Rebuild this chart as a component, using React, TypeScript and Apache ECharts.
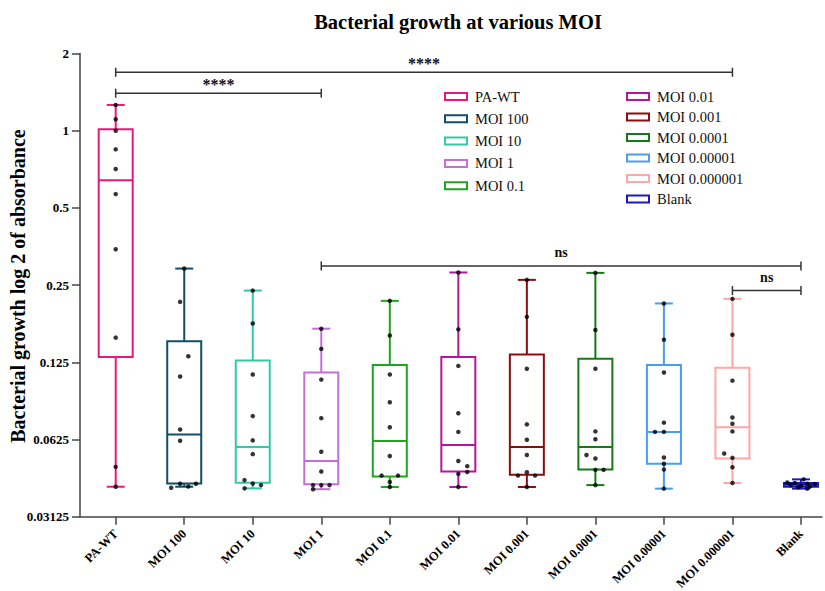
import React, { useEffect, useRef } from "react";
import * as echarts from "echarts";

// ---------------- data ----------------
const categories = [
  "PA-WT", "MOI 100", "MOI 10", "MOI 1", "MOI 0.1", "MOI 0.01",
  "MOI 0.001", "MOI 0.0001", "MOI 0.00001", "MOI 0.000001", "Blank",
];

const colors = [
  "#e8197c", "#124e66", "#33c9a4", "#c46fd6", "#1fa51f", "#b3169f",
  "#8c0d0d", "#157a15", "#4a9ded", "#ffa6a6", "#1a1ac4",
];

// box statistics: [min, Q1, median, Q3, max]
const boxPAWT = [0.0409, 0.131, 0.641, 1.013, 1.26];
const boxMOI100 = [0.0409, 0.0421, 0.0654, 0.151, 0.29];
const boxMOI10 = [0.0403, 0.0424, 0.0584, 0.127, 0.238];
const boxMOI1 = [0.04, 0.0418, 0.0515, 0.114, 0.169];
const boxMOI01 = [0.0408, 0.0448, 0.0617, 0.122, 0.217];
const boxMOI001 = [0.0408, 0.0469, 0.0595, 0.131, 0.28];
const boxMOI0001 = [0.0408, 0.0455, 0.0584, 0.134, 0.262];
const boxMOI00001 = [0.0415, 0.0477, 0.0584, 0.129, 0.279];
const boxMOI000001 = [0.0402, 0.0503, 0.0669, 0.122, 0.212];
const boxMOI0000001 = [0.0423, 0.0527, 0.0697, 0.119, 0.221];
const boxBlank = [0.0402, 0.0409, 0.0416, 0.0423, 0.0437];

// individual replicate values
const ptsPAWT = [1.26, 1.108, 1.0, 0.846, 0.709, 0.566, 0.345, 0.156, 0.0489, 0.0409];
const ptsMOI100 = [0.29, 0.215, 0.132, 0.11, 0.0684, 0.0618, 0.042, 0.0405, 0.041, 0.042];
const ptsMOI10 = [0.238, 0.177, 0.112, 0.0771, 0.062, 0.0548, 0.0434, 0.0421, 0.0415, 0.0403];
const ptsMOI1 = [0.169, 0.141, 0.107, 0.0757, 0.056, 0.0469, 0.0415, 0.0415, 0.0415, 0.04];
const ptsMOI01 = [0.217, 0.159, 0.112, 0.0873, 0.0698, 0.0539, 0.0452, 0.0452, 0.0427, 0.0408];
const ptsMOI001 = [0.28, 0.168, 0.121, 0.0791, 0.0669, 0.0515, 0.0492, 0.0467, 0.0459, 0.0408];
const ptsMOI0001 = [0.262, 0.188, 0.118, 0.0716, 0.0624, 0.0544, 0.0466, 0.0452, 0.0452, 0.0408];
const ptsMOI00001 = [0.279, 0.167, 0.118, 0.0672, 0.0626, 0.0544, 0.0527, 0.0476, 0.0476, 0.0415];
const ptsMOI000001 = [0.212, 0.153, 0.114, 0.0727, 0.0669, 0.0669, 0.0532, 0.0503, 0.0477, 0.0402];
const ptsMOI0000001 = [0.221, 0.16, 0.106, 0.0761, 0.072, 0.0672, 0.0551, 0.053, 0.0487, 0.0423];
const ptsBlank = [0.0437, 0.0425, 0.0423, 0.042, 0.0418, 0.0415, 0.0413, 0.041, 0.0407, 0.0402];

// horizontal jitter of each replicate (fraction of a category step)
const jitPAWT = [0, 0, 0, 0, 0, 0, 0, 0, 0, 0];
const jitMOI100 = [0, -0.06, 0.06, -0.06, -0.06, -0.06, -0.06, -0.19, 0.06, 0.17];
const jitMOI10 = [0, 0, 0, 0, 0, 0, -0.12, 0, 0.12, -0.12];
const jitMOI1 = [0, 0, 0, 0, 0, 0, -0.12, 0, 0.12, -0.12];
const jitMOI01 = [0, 0, 0, 0, 0, 0, -0.12, 0.12, 0, 0];
const jitMOI001 = [0, 0, 0, 0, 0, 0, 0.13, 0.13, 0, 0];
const jitMOI0001 = [0, 0, 0, 0, 0, 0, 0, -0.13, 0.12, 0];
const jitMOI00001 = [0, 0, 0, 0, 0, -0.13, 0, 0, 0.12, 0];
const jitMOI000001 = [0, 0, 0, 0, -0.13, 0, 0, 0, 0, 0];
const jitMOI0000001 = [0, 0, 0, 0, 0, 0, -0.12, 0, 0, 0];
const jitBlank = [0.04, -0.2, -0.09, 0.09, 0.2, -0.15, 0, 0.13, -0.04, 0.09];

// y-axis ticks (log2 scale)
const yTickLabels = ["0.03125", "0.0625", "0.125", "0.25", "0.5", "1", "2"];

// significance brackets
const bracketFrom = [0, 0, 3, 9];
const bracketTo = [9, 3, 10, 10];
const bracketHeight = [1.69, 1.4, 0.297, 0.238]; // value level of the bracket
const bracketLabels = ["****", "****", "ns", "ns"];

const legendLeftNames = categories.slice(0, 5);
const legendRightNames = categories.slice(5);

const boxes = [boxPAWT, boxMOI100, boxMOI10, boxMOI1, boxMOI01, boxMOI001, boxMOI0001, boxMOI00001, boxMOI000001, boxMOI0000001, boxBlank];
const points = [ptsPAWT, ptsMOI100, ptsMOI10, ptsMOI1, ptsMOI01, ptsMOI001, ptsMOI0001, ptsMOI00001, ptsMOI000001, ptsMOI0000001, ptsBlank];
const jitters = [jitPAWT, jitMOI100, jitMOI10, jitMOI1, jitMOI01, jitMOI001, jitMOI0001, jitMOI00001, jitMOI000001, jitMOI0000001, jitBlank];

const FONT = "Liberation Serif, Times New Roman, serif";

export default function App() {
  const ref = useRef<HTMLDivElement>(null);
  useEffect(() => {
    if (!ref.current) return;
    const chart = echarts.init(ref.current, null, { renderer: "svg" });

    const boxSeries = categories.map((name, i) => ({
      type: "custom",
      name,
      xAxisIndex: 0,
      yAxisIndex: 0,
      itemStyle: { color: colors[i] },
      z: 2,
      encode: { x: 0, y: [1, 2, 3, 4, 5] },
      data: [[i, ...boxes[i].map((v) => Math.log2(v))]],
      renderItem: (params: any, api: any) => {
        const x = api.value(0);
        const pMax = api.coord([x, api.value(5)]);
        const pQ3 = api.coord([x, api.value(4)]);
        const pMed = api.coord([x, api.value(3)]);
        const pQ1 = api.coord([x, api.value(2)]);
        const pMin = api.coord([x, api.value(1)]);
        const cx = pMax[0];
        const half = 17;
        const cap = 9;
        const st = { stroke: colors[i], lineWidth: 2, fill: "none" };
        return {
          type: "group",
          children: [
            { type: "line", shape: { x1: cx, y1: pMax[1], x2: cx, y2: pQ3[1] }, style: st },
            { type: "line", shape: { x1: cx - cap, y1: pMax[1], x2: cx + cap, y2: pMax[1] }, style: st },
            { type: "line", shape: { x1: cx, y1: pQ1[1], x2: cx, y2: pMin[1] }, style: st },
            { type: "line", shape: { x1: cx - cap, y1: pMin[1], x2: cx + cap, y2: pMin[1] }, style: st },
            { type: "rect", shape: { x: cx - half, y: pQ3[1], width: 2 * half, height: pQ1[1] - pQ3[1] }, style: st },
            { type: "line", shape: { x1: cx - half, y1: pMed[1], x2: cx + half, y2: pMed[1] }, style: st },
          ],
        };
      },
    }));

    const scatterData: number[][] = [];
    points.forEach((arr, i) => {
      arr.forEach((v, k) => scatterData.push([i + jitters[i][k], Math.log2(v)]));
    });

    const bracketData = bracketFrom.map((f, k) => [f, bracketTo[k], Math.log2(bracketHeight[k]), k]);

    const legendItem = (name: string) => {
      const i = categories.indexOf(name);
      return {
        name,
        icon: "rect",
        itemStyle: { color: "#ffffff", borderColor: colors[i], borderWidth: 2 },
      };
    };

    chart.setOption({
      animation: false,
      backgroundColor: "#ffffff",
      graphic: [
        {
          type: "text",
          x: 458,
          y: 22,
          style: {
            text: "Bacterial growth at various MOI",
            font: `bold 20.5px ${FONT}`,
            fill: "#000",
            textAlign: "center",
            textVerticalAlign: "middle",
          },
        },
        {
          type: "text",
          x: 18,
          y: 286,
          rotation: Math.PI / 2,
          style: {
            text: "Bacterial growth log 2 of absorbance",
            font: `bold 20px ${FONT}`,
            fill: "#000",
            textAlign: "center",
            textVerticalAlign: "middle",
          },
        },
      ],
      legend: [
        {
          orient: "vertical",
          left: 439,
          top: 84,
          itemWidth: 22,
          itemHeight: 7,
          itemGap: 7.3,
          selectedMode: false,
          textStyle: { fontFamily: FONT, fontSize: 14.5, color: "#111", padding: [0, 0, 0, 3] },
          data: legendLeftNames.map(legendItem),
        },
        {
          orient: "vertical",
          left: 621,
          top: 84,
          itemWidth: 22,
          itemHeight: 7,
          itemGap: 5.5,
          selectedMode: false,
          textStyle: { fontFamily: FONT, fontSize: 14.5, color: "#111", padding: [0, 0, 0, 3] },
          data: legendRightNames.map(legendItem),
        },
      ],
      grid: { left: 80, right: 3, top: 53.5, bottom: 74.3, containLabel: false, outerBoundsMode: "none" },
      xAxis: {
        type: "value",
        min: -0.521,
        max: 10.307,
        splitLine: { show: false },
        axisLine: { show: true, onZero: false, lineStyle: { color: "#444", width: 1.5 } },
        axisTick: {
          show: true,
          length: 8,
          customValues: categories.map((_, i) => i),
          lineStyle: { color: "#444", width: 1.5 },
        },
        axisLabel: {
          show: true,
          rotate: 45,
          margin: 15,
          customValues: categories.map((_, i) => i),
          formatter: (v: number) => categories[Math.round(v)] ?? "",
          fontFamily: FONT,
          fontWeight: "bold",
          fontSize: 12.5,
          color: "#000",
        },
      },
      yAxis: {
        type: "value",
        min: -5,
        max: 1,
        interval: 1,
        splitLine: { show: false },
        axisLine: { show: true, onZero: false, lineStyle: { color: "#444", width: 1.5 } },
        axisTick: { show: true, length: 8, lineStyle: { color: "#444", width: 1.5 } },
        axisLabel: {
          margin: 11,
          formatter: (v: number) => yTickLabels[Math.round(v) + 5] ?? "",
          fontFamily: FONT,
          fontWeight: "bold",
          fontSize: 13,
          color: "#000",
        },
      },
      series: [
        ...boxSeries,
        {
          type: "scatter",
          name: "points",
          symbol: "circle",
          symbolSize: 4.5,
          itemStyle: { color: "#000" },
          z: 5,
          data: scatterData,
        },
        {
          type: "custom",
          name: "brackets",
          z: 4,
          encode: { x: [0, 1], y: 2 },
          data: bracketData,
          renderItem: (params: any, api: any) => {
            const a = api.coord([api.value(0), api.value(2)]);
            const b = api.coord([api.value(1), api.value(2)]);
            const k = api.value(3);
            const label = bracketLabels[k];
            const st = { stroke: "#333", lineWidth: 1.5 };
            const isStar = label.indexOf("*") >= 0;
            return {
              type: "group",
              children: [
                { type: "line", shape: { x1: a[0], y1: a[1], x2: b[0], y2: b[1] }, style: st },
                { type: "line", shape: { x1: a[0], y1: a[1] - 4.5, x2: a[0], y2: a[1] + 4.5 }, style: st },
                { type: "line", shape: { x1: b[0], y1: b[1] - 4.5, x2: b[0], y2: b[1] + 4.5 }, style: st },
                {
                  type: "text",
                  x: (a[0] + b[0]) / 2,
                  y: a[1] - (isStar ? 9 : 13),
                  style: {
                    text: label,
                    font: `bold ${isStar ? 16 : 14}px ${FONT}`,
                    fill: "#111",
                    textAlign: "center",
                    textVerticalAlign: "middle",
                  },
                },
              ],
            };
          },
        },
      ],
    });
    return () => chart.dispose();
  }, []);

  return (
    <div
      ref={ref}
      style={{ position: "fixed", left: 0, top: 0, width: 825, height: 591, background: "#fff" }}
    />
  );
}
